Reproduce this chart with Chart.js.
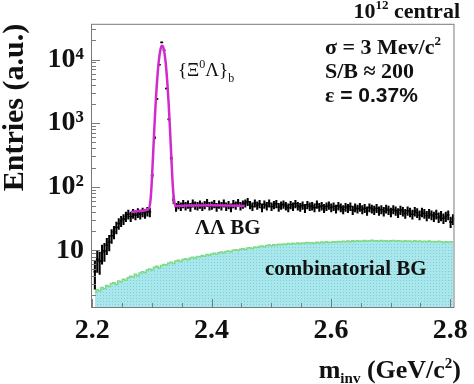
<!DOCTYPE html>
<html>
<head>
<meta charset="utf-8">
<script src="https://cdn.jsdelivr.net/npm/chart.js@4.4.1/dist/chart.umd.min.js"></script>
<style>
  html, body { margin: 0; padding: 0; background: #fff; }
  #wrap { width: 474px; height: 384px; }
</style>
</head>
<body>
<div id="wrap"><canvas id="c" width="474" height="384"></canvas></div>
<script>
// histogram binning in GeV/c^2
const binLow = 2.2025;
const binWidth = 0.004;

// LambdaLambda BG + {Xi0 Lambda}_b signal, one value per bin
const counts = [
  4.6, 7.2, 6.8, 9.1, 9.8, 12, 13.5, 17, 19.5, 23,
  26.5, 29, 31, 34, 37, 34, 38, 36, 39, 37,
  40, 38, 41, 40,
  150, 590, 2400, 8300, 18600, 14000, 3500, 1150, 280, 62, 48,
  52, 49, 54, 50, 53, 48, 55, 51, 50, 53,
  49, 52, 56, 50, 51, 54, 48, 53, 50, 55,
  49, 52, 47, 54, 51, 56, 50, 53, 55, 58,
  52, 49, 55, 51, 54, 47, 53, 50, 55, 49,
  52, 54, 48, 51, 53, 50, 47, 52, 49, 54,
  50, 48, 51, 46, 52, 49, 50, 47, 53, 48,
  50, 46, 49, 51, 47, 49, 45, 50, 47, 44,
  48, 46, 49, 43, 47, 45, 48, 44, 46, 42,
  47, 45, 43, 46, 42, 44, 41, 45, 43, 40,
  44, 42, 39, 43, 41, 38, 42, 40, 37, 41,
  39, 36, 40, 38, 35, 38, 36, 34, 37, 33,
  35, 32, 34, 36, 28, 31
];

// combinatorial BG, same bins
const combBG = [
  2.2, 2.4, 2.3, 2.6, 2.5,  2.8, 2.7, 3.0, 3.1, 2.9,
  3.3, 3.2, 3.5, 3.4, 3.7,  3.9, 3.8, 4.2, 4.0, 4.4,
  4.6, 4.5, 4.9, 5.1, 4.9,  5.4, 5.6, 5.3, 5.8, 6.0,
  5.9, 6.3, 6.5, 6.2, 6.8,  7.0, 6.7, 7.2, 7.4, 7.1,
  7.6, 7.8, 7.5, 8.0, 7.9,  8.3, 8.1, 8.6, 8.4, 8.8,
  9.0, 8.7, 9.2, 9.4, 9.1,  9.6, 9.8, 9.5, 10.0, 10.2,
  9.9, 10.4, 10.6, 10.3, 10.9,  11.0, 10.7, 11.3, 11.1, 11.5,
  11.7, 11.4, 11.9, 12.1, 11.8,  12.3, 12.0, 12.5, 12.2, 12.6,
  12.4, 12.8, 12.5, 12.9, 12.7,  13.0, 12.7, 13.1, 12.9, 13.3,
  13.0, 13.2, 12.9, 13.4, 13.1,  13.5, 13.2, 13.6, 13.3, 13.4,
  13.7, 13.4, 13.8, 13.5, 13.9,  13.6, 14.0, 13.7, 14.1, 13.8,
  14.2, 13.9, 14.0, 14.3, 13.9,  14.1, 14.4, 14.0, 14.2, 13.9,
  14.3, 14.0, 14.2, 13.8, 14.1,  14.3, 13.9, 14.1, 14.0, 13.8,
  14.2, 13.9, 14.0, 13.7, 14.1,  13.8, 14.0, 13.6, 13.9, 13.7,
  14.0, 13.6, 13.8, 13.5, 13.9,  13.6, 13.3, 13.7, 13.4, 13.6,
  13.5
];

// gaussian + background fit (magenta)
const fitMass = [2.265, 2.28, 2.295, 2.298, 2.300, 2.302, 2.304, 2.306, 2.308, 2.310,
  2.312, 2.314, 2.316, 2.3172, 2.318, 2.320, 2.322, 2.324, 2.326, 2.328,
  2.330, 2.332, 2.334, 2.336, 2.338, 2.340, 2.36, 2.40, 2.43, 2.455];
const fitValue = [40, 41.5, 45.6, 66, 128, 314, 786, 1812, 3700, 6606,
  10241, 13795, 16128, 16545, 16358, 14397, 10995, 7290, 4204, 2115,
  940, 382, 156, 78, 55, 50, 50.5, 51, 50.5, 50];

const xTicks = [2.2, 2.4, 2.6, 2.8];
const xMinorTicks = [2.2, 2.25, 2.3, 2.35, 2.4, 2.45, 2.5, 2.55, 2.6, 2.65, 2.7, 2.75, 2.8];
const yTicks = [10, 100, 1000, 10000];
const yTickLabels = ['10', '10²', '10³', '10⁴'];

const SERIF = "'Liberation Serif', 'Times New Roman', serif";
const SANS = "'Liberation Sans', Arial, sans-serif";

const binCenters = counts.map((_, i) => +(binLow + binWidth * (i + 0.5)).toFixed(4));

// dotted cyan fill like ROOT fill style
function dotPattern() {
  const pc = document.createElement('canvas');
  pc.width = 3; pc.height = 3;
  const p = pc.getContext('2d');
  p.fillStyle = '#a8e7eb';
  p.fillRect(0, 0, 3, 3);
  p.fillStyle = '#84cdd6';
  p.fillRect(1, 1, 1, 1);
  return p.createPattern(pc, 'repeat');
}

// draw a run of text pieces (for super/subscripts)
function drawRich(ctx, x, y, parts, align) {
  let total = 0;
  parts.forEach(p => { ctx.font = p.f; total += ctx.measureText(p.t).width; });
  let cx = align === 'right' ? x - total : x;
  parts.forEach(p => {
    ctx.font = p.f;
    ctx.fillText(p.t, cx, y + (p.dy || 0));
    cx += ctx.measureText(p.t).width;
  });
}

const frameTicks = {
  id: 'frameTicks',
  afterDatasetsDraw(chart) {
    const { ctx, chartArea: a, scales: { x, y } } = chart;
    ctx.save();
    ctx.strokeStyle = '#7a7a7a';
    ctx.lineWidth = 1;
    ctx.strokeRect(a.left + 0.5, a.top + 0.5, a.right - a.left - 1, a.bottom - a.top - 1);
    ctx.beginPath();
    xMinorTicks.forEach(v => {
      const px = Math.round(x.getPixelForValue(v)) + 0.5;
      const len = xTicks.includes(v) ? 9 : 5;
      ctx.moveTo(px, a.bottom);
      ctx.lineTo(px, a.bottom - len);
    });
    for (let dec = 1; dec <= 10000; dec *= 10) {
      for (let m = 1; m <= 9; m++) {
        const v = dec * m;
        if (v < y.min || v > y.max) continue;
        const py = Math.round(y.getPixelForValue(v)) + 0.5;
        const len = m === 1 ? 9 : 5;
        ctx.moveTo(a.left, py);
        ctx.lineTo(a.left + len, py);
      }
    }
    ctx.stroke();
    ctx.restore();
  },
  afterDraw(chart) {
    const ctx = chart.ctx;
    ctx.save();
    ctx.fillStyle = '#111';
    ctx.textBaseline = 'alphabetic';
    const b22 = 'bold 22px ' + SERIF, b13 = 'bold 13px ' + SERIF;
    drawRich(ctx, 460, 18, [{ t: '10', f: b22 }, { t: '12', f: b13, dy: -9 }, { t: ' central', f: b22 }], 'right');
    drawRich(ctx, 325, 54, [{ t: 'σ = 3 Mev/c', f: b22 }, { t: '2', f: b13, dy: -9 }]);
    drawRich(ctx, 325, 78, [{ t: 'S/B ≈ 200', f: b22 }]);
    drawRich(ctx, 325, 102, [{ t: 'ε', f: b22 }, { t: ' = 0.37%', f: 'bold 21px ' + SANS }]);
    const r20 = '19px ' + SERIF, r12 = '12px ' + SERIF;
    drawRich(ctx, 178, 76, [{ t: '{Ξ', f: r20 }, { t: '0', f: r12, dy: -8 }, { t: 'Λ}', f: r20 }, { t: 'b', f: r12, dy: 6 }]);
    drawRich(ctx, 195, 234, [{ t: 'ΛΛ BG', f: 'bold 21px ' + SERIF }]);
    drawRich(ctx, 265, 275, [{ t: 'combinatorial BG', f: 'bold 21px ' + SERIF }]);
    const b26 = 'bold 26px ' + SERIF, b15 = 'bold 15px ' + SERIF;
    drawRich(ctx, 461, 378, [{ t: 'm', f: b26 }, { t: 'inv', f: b15, dy: 5 }, { t: ' (GeV/c', f: b26 },
      { t: '2', f: b15, dy: -10 }, { t: ')', f: b26 }], 'right');
    ctx.restore();
  }
};

const ctx = document.getElementById('c').getContext('2d');
new Chart(ctx, {
  type: 'scatter',
  data: {
    datasets: [
      {
        // fit curve on top
        type: 'line',
        data: fitMass.map((m, i) => ({ x: m, y: fitValue[i] })),
        borderColor: '#cf2bcf',
        borderWidth: 2.5,
        pointRadius: 0,
        cubicInterpolationMode: 'monotone',
        fill: false,
        order: 1
      },
      {
        // data markers
        type: 'scatter',
        data: counts.map((v, i) => ({ x: binCenters[i], y: v })),
        pointStyle: 'line',
        pointRadius: 1.4,
        pointBorderWidth: 1.6,
        borderColor: '#000',
        backgroundColor: '#000',
        order: 2
      },
      {
        // Poisson error bars sqrt(N)
        type: 'bar',
        data: counts.map((v, i) => ({ x: binCenters[i], y: [v - Math.sqrt(v), v + Math.sqrt(v)] })),
        backgroundColor: '#000',
        barThickness: 1.4,
        order: 3
      },
      {
        type: 'line',
        data: combBG.map((v, i) => ({ x: binCenters[i], y: v })),
        stepped: 'middle',
        borderColor: '#7fda88',
        borderWidth: 1.5,
        backgroundColor: dotPattern(),
        fill: 'start',
        pointRadius: 0,
        order: 4
      }
    ]
  },
  options: {
    responsive: false,
    animation: false,
    devicePixelRatio: 1,
    layout: { padding: { top: 22, right: 17, left: 0, bottom: 0 } },
    plugins: { legend: { display: false }, tooltip: { enabled: false } },
    scales: {
      x: {
        type: 'linear',
        min: 2.198,
        max: 2.807,
        offset: false,
        grid: { display: false, drawTicks: false },
        border: { display: false },
        afterBuildTicks: s => { s.ticks = xTicks.map(v => ({ value: v })); },
        afterFit: s => { s.height = 76; },
        ticks: {
          color: '#111',
          padding: 6,
          maxRotation: 0,
          font: { family: SERIF, size: 28, weight: 'bold' },
          callback: v => v.toFixed(1)
        }
      },
      y: {
        type: 'logarithmic',
        min: 1.24,
        max: 36500,
        grid: { display: false, drawTicks: false },
        border: { display: false },
        afterBuildTicks: s => { s.ticks = yTicks.map(v => ({ value: v })); },
        afterFit: s => { s.width = 91; },
        title: {
          display: true,
          text: 'Entries (a.u.)',
          align: 'end',
          color: '#111',
          padding: 0,
          font: { family: SERIF, size: 30, weight: 'bold', lineHeight: 1.0 }
        },
        ticks: {
          color: '#111',
          padding: 7,
          font: { family: SERIF, size: 28, weight: 'bold' },
          callback: v => {
            const i = yTicks.indexOf(v);
            return i >= 0 ? yTickLabels[i] : '';
          }
        }
      }
    }
  },
  plugins: [frameTicks]
});
</script>
</body>
</html>
